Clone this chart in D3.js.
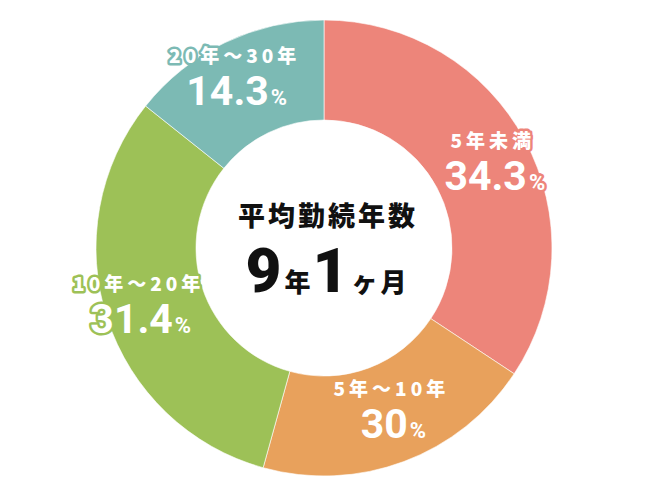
<!DOCTYPE html>
<html><head><meta charset="utf-8">
<script src="https://cdn.jsdelivr.net/npm/d3@7"></script>
<style>body{margin:0;background:#fff}svg{display:block}</style>
</head><body>
<svg id="c" width="650" height="500"></svg>
<script>
const categories = ["5年未満", "5年～10年", "10年～20年", "20年～30年"];
const values = [34.3, 20, 31.4, 14.3];
const percentLabels = ["34.3", "30", "31.4", "14.3"];
const colors = ["#ED857A", "#E8A15C", "#9DC157", "#7CBAB4"];
const centerTitle = "平均勤続年数";
const centerValue = [["9", true], ["年", false], ["1", true], ["ヶ", false], ["月", false]];

const svg = d3.select("#c");
const cx = 324, cy = 248, R = 228, r = 128;
const g = svg.append("g").attr("transform", `translate(${cx},${cy})`);
const pie = d3.pie().sort(null).value(d => d)(values);
const arc = d3.arc().innerRadius(r).outerRadius(R);
g.selectAll("path").data(pie).join("path")
  .attr("d", arc).attr("fill", (d, i) => colors[i])
  .attr("stroke", "#fff").attr("stroke-width", 0.6);

const labelArc = d3.arc().innerRadius(178).outerRadius(178);
const nudge = [[12, 0], [5, -3], [-16, 4], [-12, -9]];
const cjk = "'Noto Sans CJK JP', sans-serif";
pie.forEach((p, i) => {
  const [x, y] = labelArc.centroid(p);
  const lx = x + nudge[i][0], ly = y + nudge[i][1];
  g.append("text").attr("x", lx).attr("y", ly - 16)
    .attr("text-anchor", "middle").attr("font-family", cjk).attr("font-weight", 900)
    .attr("font-size", 19).attr("letter-spacing", 4).attr("fill", "#fff")
    .attr("stroke", colors[i]).attr("stroke-width", 5).attr("stroke-linejoin", "round")
    .attr("paint-order", "stroke").text(categories[i]);
  const t2 = g.append("text").attr("x", lx + 2).attr("y", ly + 26)
    .attr("text-anchor", "middle").attr("font-family", "Roboto, sans-serif").attr("font-weight", 700)
    .attr("font-size", 41).attr("fill", "#fff")
    .attr("stroke", colors[i]).attr("stroke-width", 5).attr("stroke-linejoin", "round")
    .attr("paint-order", "stroke");
  t2.append("tspan").text(percentLabels[i]);
  t2.append("tspan").attr("font-size", 22).attr("dx", 2).text("%");
});

g.append("text").attr("x", 4).attr("y", -22).attr("text-anchor", "middle")
  .attr("font-family", cjk).attr("font-weight", 900).attr("font-size", 27)
  .attr("letter-spacing", 3).attr("fill", "#111").text(centerTitle);
const cv = g.append("text").attr("x", 0).attr("y", 44).attr("text-anchor", "middle")
  .attr("fill", "#111");
centerValue.forEach(([s, big]) => {
  cv.append("tspan")
    .attr("font-family", big ? "Roboto, sans-serif" : cjk)
    .attr("font-weight", 900)
    .attr("font-size", big ? 62 : 26)
    .attr("dx", big ? 2 : 3)
    .text(s);
});
</script>
</body></html>
